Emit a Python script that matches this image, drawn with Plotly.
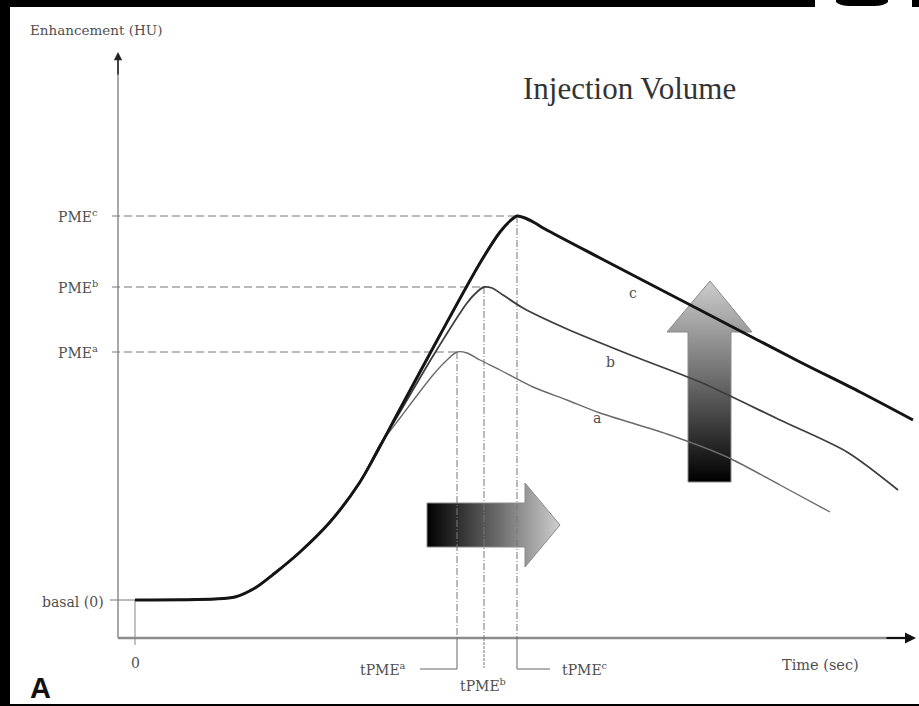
import plotly.graph_objects as go

W, H = 919, 706

# Time (s) / enhancement (HU) samples of the three curves (a < b < c injection volume)
time_a = [0, 16, 20, 24, 28, 33, 39, 45, 49, 53, 59.6, 62.4, 64.4, 66.4, 69, 73, 79.6, 86.4, 93,
          106.4, 118.4, 129, 139]
enh_a = [0, 0.5, 1.5, 6, 13.5, 24, 39, 59, 77.5, 91, 112.5, 120, 124, 123.5, 120, 115, 106.5, 100, 93.5,
         83, 71.5, 57.5, 44]

time_b = [0, 16, 20, 24, 28, 33, 39, 45, 49, 53, 59.6, 66.4, 68.6, 69.8, 71.4, 73.6, 77.6, 86.4, 99.6,
          113, 129, 142.4, 152.6]
enh_b = [0, 0.5, 1.5, 6, 13.5, 24, 39, 59, 77.5, 94, 122, 148.5, 154.5, 156.5, 156, 152.5, 146, 135.5, 122,
         109, 90, 74, 55]

time_c = [0, 16, 20, 24, 28, 33, 39, 45, 53, 61, 69, 73, 75, 76.4, 78, 80, 82, 93, 113, 133, 145, 155.6]
enh_c = [0, 0.5, 1.5, 6, 13.5, 24, 39, 59, 95.5, 132.5, 168.5, 184, 189.5, 192, 191, 188.5, 185.5, 171,
         145, 119, 104, 90]

# Peak enhancement (PME) and time to peak (tPME) for a, b, c
curve_names = ["a", "b", "c"]
peak_time = [64.4, 69.8, 76.4]
peak_enh = [124, 156.5, 192]

# Curve label anchor points
label_time = [92.4, 95, 99.6]
label_enh = [91, 119, 153.5]

# Block arrows (time, HU outlines)
harrow_t = [58.4, 78, 78, 85, 78, 78, 58.4, 58.4]
harrow_y = [48.5, 48.5, 58.5, 37.5, 16.5, 26.5, 26.5, 48.5]
varrow_t = [110.6, 119.2, 119.2, 123.4, 115, 106.4, 110.6, 110.6]
varrow_y = [59, 59, 134, 134, 159.5, 134, 134, 59]

X_RANGE = [-27, 156.8]
Y_RANGE = [-53, 300]
AXIS_T = -3.4     # time position of the vertical axis
AXIS_Y = -19      # enhancement position of the horizontal axis
BRACKET_Y = -34.5

SERIF = "DejaVu Serif"
TXT = "#505050"


def pxp(x):
    return x / W


def pyp(y):
    return 1 - y / H


fig = go.Figure()

# gradient block arrows (drawn beneath the curves)
fig.add_trace(go.Scatter(
    x=harrow_t, y=harrow_y, mode="lines", fill="toself",
    line=dict(color="#8a8a8a", width=1),
    fillgradient=dict(type="horizontal", start=min(harrow_t), stop=max(harrow_t),
                      colorscale=[[0, "#000000"], [0.55, "#6e6e6e"], [1, "#cfcfcf"]]),
    hoverinfo="skip", showlegend=False))
fig.add_trace(go.Scatter(
    x=varrow_t, y=varrow_y, mode="lines", fill="toself",
    line=dict(color="#8a8a8a", width=1),
    fillgradient=dict(type="vertical", start=min(varrow_y), stop=max(varrow_y),
                      colorscale=[[0, "#000000"], [0.5, "#6a6a6a"], [1, "#cdcdcd"]]),
    hoverinfo="skip", showlegend=False))

# axes
fig.add_trace(go.Scatter(x=[AXIS_T, AXIS_T], y=[AXIS_Y, 270], mode="lines",
                         line=dict(color="#a8a8a8", width=2), hoverinfo="skip", showlegend=False))
fig.add_trace(go.Scatter(x=[AXIS_T, 154], y=[AXIS_Y, AXIS_Y], mode="lines",
                         line=dict(color="#8c8c8c", width=2.5), hoverinfo="skip", showlegend=False))
# basal tick and zero tick
fig.add_trace(go.Scatter(x=[-5, 0], y=[0, 0], mode="lines",
                         line=dict(color="#777", width=1), hoverinfo="skip", showlegend=False))
fig.add_trace(go.Scatter(x=[0, 0], y=[0, -22.5], mode="lines",
                         line=dict(color="#888", width=1), hoverinfo="skip", showlegend=False))

# PME / tPME guide lines
for i, name in enumerate(curve_names):
    fig.add_trace(go.Scatter(x=[-4.6, peak_time[i]], y=[peak_enh[i], peak_enh[i]], mode="lines",
                             line=dict(color="#777", width=1, dash="8px,4px"),
                             hoverinfo="skip", showlegend=False))
    fig.add_trace(go.Scatter(x=[peak_time[i], peak_time[i]], y=[peak_enh[i], AXIS_Y], mode="lines",
                             line=dict(color="#777", width=1, dash="7px,2px,1px,2px"),
                             hoverinfo="skip", showlegend=False))

# brackets below the time axis
fig.add_trace(go.Scatter(x=[peak_time[0], peak_time[0], 57], y=[AXIS_Y, BRACKET_Y, BRACKET_Y],
                         mode="lines", line=dict(color="#666", width=1), hoverinfo="skip", showlegend=False))
fig.add_trace(go.Scatter(x=[peak_time[1], peak_time[1]], y=[AXIS_Y, BRACKET_Y + 0.5],
                         mode="lines", line=dict(color="#777", width=1, dash="3px,1px"),
                         hoverinfo="skip", showlegend=False))
fig.add_trace(go.Scatter(x=[peak_time[2], peak_time[2], 83], y=[AXIS_Y, BRACKET_Y, BRACKET_Y],
                         mode="lines", line=dict(color="#666", width=1), hoverinfo="skip", showlegend=False))

# enhancement curves
fig.add_trace(go.Scatter(x=time_a, y=enh_a, mode="lines",
                         line=dict(color="#6a6a6a", width=1.4, shape="spline", smoothing=0.8),
                         hoverinfo="skip", showlegend=False))
fig.add_trace(go.Scatter(x=time_b, y=enh_b, mode="lines",
                         line=dict(color="#3e3e3e", width=1.8, shape="spline", smoothing=0.8),
                         hoverinfo="skip", showlegend=False))
fig.add_trace(go.Scatter(x=time_c, y=enh_c, mode="lines",
                         line=dict(color="#141414", width=3, shape="spline", smoothing=0.8),
                         hoverinfo="skip", showlegend=False))

annotations = []


def text(x, y, s, size=14, anchor="center", color=TXT, family=SERIF, yanchor="middle"):
    annotations.append(dict(x=x, y=y, xref="x", yref="y", text=s, showarrow=False,
                            xanchor=anchor, yanchor=yanchor,
                            font=dict(family=family, size=size, color=color)))


for i, name in enumerate(curve_names):
    text(-7, peak_enh[i], f"PME<sup>{name}</sup>", anchor="right")
    text(label_time[i], label_enh[i], name, size=14)

text(54.6, BRACKET_Y, "tPME<sup>a</sup>", anchor="right")
text(peak_time[1] - 0.2, -42.5, "tPME<sup>b</sup>")
text(85, BRACKET_Y, "tPME<sup>c</sup>", anchor="left")
text(-5.8, -1, "basal (0)", anchor="right")
text(0, -31.5, "0")
text(129, -32.5, "Time (sec)", anchor="left", size=14.5)
text(-21.4, 285, "Enhancement (HU)", anchor="left", size=13.5)
text(77.2, 256, "Injection Volume", anchor="left", size=31, color="#333", family="Liberation Serif")
text(-21.4, -44, "<b>A</b>", anchor="left", size=29, color="#111", family="Liberation Sans")

# axis arrow heads
annotations.append(dict(x=AXIS_T, y=274, ax=AXIS_T, ay=262, xref="x", yref="y", axref="x", ayref="y",
                        text="", showarrow=True, arrowhead=2, arrowsize=1.1, arrowwidth=1.5,
                        arrowcolor="#222"))
annotations.append(dict(x=156.2, y=AXIS_Y, ax=150, ay=AXIS_Y, xref="x", yref="y", axref="x", ayref="y",
                        text="", showarrow=True, arrowhead=2, arrowsize=1.1, arrowwidth=2,
                        arrowcolor="#111"))

shapes = [
    # white page on the dark surround
    dict(type="rect", xref="paper", yref="paper", x0=pxp(10), x1=pxp(919), y0=pyp(704), y1=pyp(7),
         fillcolor="white", line=dict(width=0), layer="below"),
    dict(type="rect", xref="paper", yref="paper", x0=pxp(815), x1=pxp(912), y0=pyp(8), y1=pyp(0),
         fillcolor="white", line=dict(width=0), layer="below"),
    dict(type="path", xref="paper", yref="paper",
         path=f"M {pxp(836)} {pyp(0)} L {pxp(836)} {pyp(2)} Q {pxp(840)} {pyp(6)} {pxp(850)} {pyp(6)} "
              f"L {pxp(874)} {pyp(6)} Q {pxp(884)} {pyp(6)} {pxp(888)} {pyp(2)} L {pxp(888)} {pyp(0)} Z",
         fillcolor="black", line=dict(width=0), layer="below"),
]

fig.update_layout(
    width=W, height=H,
    margin=dict(l=0, r=0, t=0, b=0),
    paper_bgcolor="black", plot_bgcolor="black",
    xaxis=dict(range=X_RANGE, visible=False, fixedrange=True),
    yaxis=dict(range=Y_RANGE, visible=False, fixedrange=True),
    annotations=annotations, shapes=shapes,
    showlegend=False,
)

fig.write_html("out.html", config={"displayModeBar": False})
